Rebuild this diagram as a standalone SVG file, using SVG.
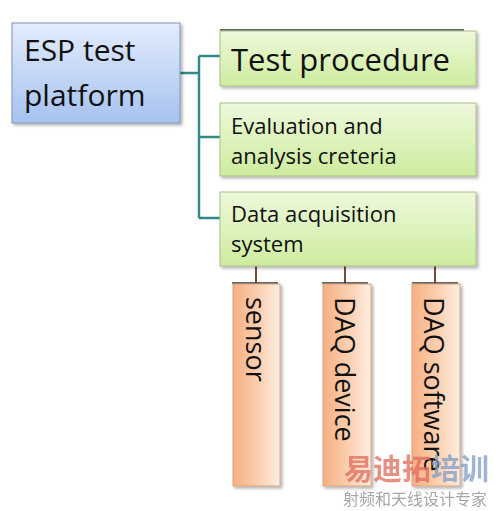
<svg xmlns="http://www.w3.org/2000/svg" width="496" height="511" viewBox="0 0 496 511">
<defs>
<linearGradient id="gBlue" x1="0" y1="0" x2="0" y2="1"><stop offset="0" stop-color="#e3ecfc"/><stop offset="1" stop-color="#a6c2f0"/></linearGradient>
<linearGradient id="gGreen" x1="0" y1="0" x2="0" y2="1"><stop offset="0" stop-color="#eef9dc"/><stop offset="1" stop-color="#cdec9e"/></linearGradient>
<linearGradient id="gOrange" x1="0" y1="0" x2="1" y2="0"><stop offset="0" stop-color="#f6b083"/><stop offset="0.6" stop-color="#fbd3b6"/><stop offset="1" stop-color="#fdeee2"/></linearGradient>
<filter id="sh" x="-10%" y="-10%" width="130%" height="130%"><feDropShadow dx="2" dy="2" stdDeviation="1.5" flood-color="#000" flood-opacity="0.3"/></filter>
</defs>
<style>
.t{font-family:"Open Sans","Noto Sans",sans-serif;fill:#111}
.blue{fill:url(#gBlue);stroke:#7f93b8;stroke-width:1}
.green{fill:url(#gGreen);stroke:#a9c08a;stroke-width:1}
.orange{fill:url(#gOrange);stroke:#d8a27e;stroke-width:1}
.back{fill:none;stroke:#333;stroke-width:1.5}
.conn{fill:none;stroke:#2f8a86;stroke-width:2.5}
.conn2{fill:none;stroke:#7a4a33;stroke-width:2}
</style>
<rect width="496" height="511" fill="#fff"/>
<g id="connectors">
<path class="conn" d="M180 73 H199 M199 56 V218 M199 56 H222 M199 137 H222 M199 218 H222"/>
<path class="conn2" d="M256 266 V283 M345 266 V283 M435 266 V283"/>
</g>
<g id="esp">
<rect class="blue" x="12" y="23" width="168" height="100" filter="url(#sh)"/>
<text class="t" x="24" y="61" font-size="30">ESP test</text>
<text class="t" x="24" y="106" font-size="30">platform</text>
</g>
<g id="test-procedure">
<path class="back" d="M220 30 H464"/>
<rect class="green" x="220" y="31" width="256" height="55" filter="url(#sh)"/>
<text class="t" x="231" y="71" font-size="31">Test procedure</text>
</g>
<g id="evaluation">
<rect class="green" x="220" y="103" width="256" height="73" filter="url(#sh)"/>
<text class="t" x="231" y="134" font-size="22">Evaluation and</text>
<text class="t" x="231" y="164" font-size="22">analysis creteria</text>
</g>
<g id="daq-system">
<rect class="green" x="220" y="192" width="256" height="74" filter="url(#sh)"/>
<text class="t" x="231" y="222" font-size="22">Data acquisition</text>
<text class="t" x="231" y="252" font-size="22">system</text>
</g>
<g id="sensor">
<path class="back" d="M232 283 H278"/>
<rect class="orange" x="233" y="284" width="47" height="202" filter="url(#sh)"/>
<text class="t" font-size="27" transform="translate(246 297) rotate(90)">sensor</text>
</g>
<g id="daq-device">
<path class="back" d="M322 283 H368"/>
<rect class="orange" x="323" y="284" width="48" height="202" filter="url(#sh)"/>
<text class="t" font-size="27" transform="translate(335 297) rotate(90)">DAQ device</text>
</g>
<g id="daq-software">
<path class="back" d="M412 283 H458"/>
<rect class="orange" x="412" y="284" width="48" height="202" filter="url(#sh)"/>
<text class="t" font-size="27" transform="translate(424 297) rotate(90)">DAQ software</text>
</g>
<g id="watermark" opacity="0.75">
<text x="344" y="480" font-size="29" font-weight="bold" font-family="'Noto Sans CJK SC',sans-serif" fill="#e06a5a">易迪拓<tspan fill="#7f9cc4">培训</tspan></text>
<text x="343" y="505" font-size="16" font-family="'Noto Sans CJK SC',sans-serif" fill="#8a8a8a">射频和天线设计专家</text>
</g>
</svg>
